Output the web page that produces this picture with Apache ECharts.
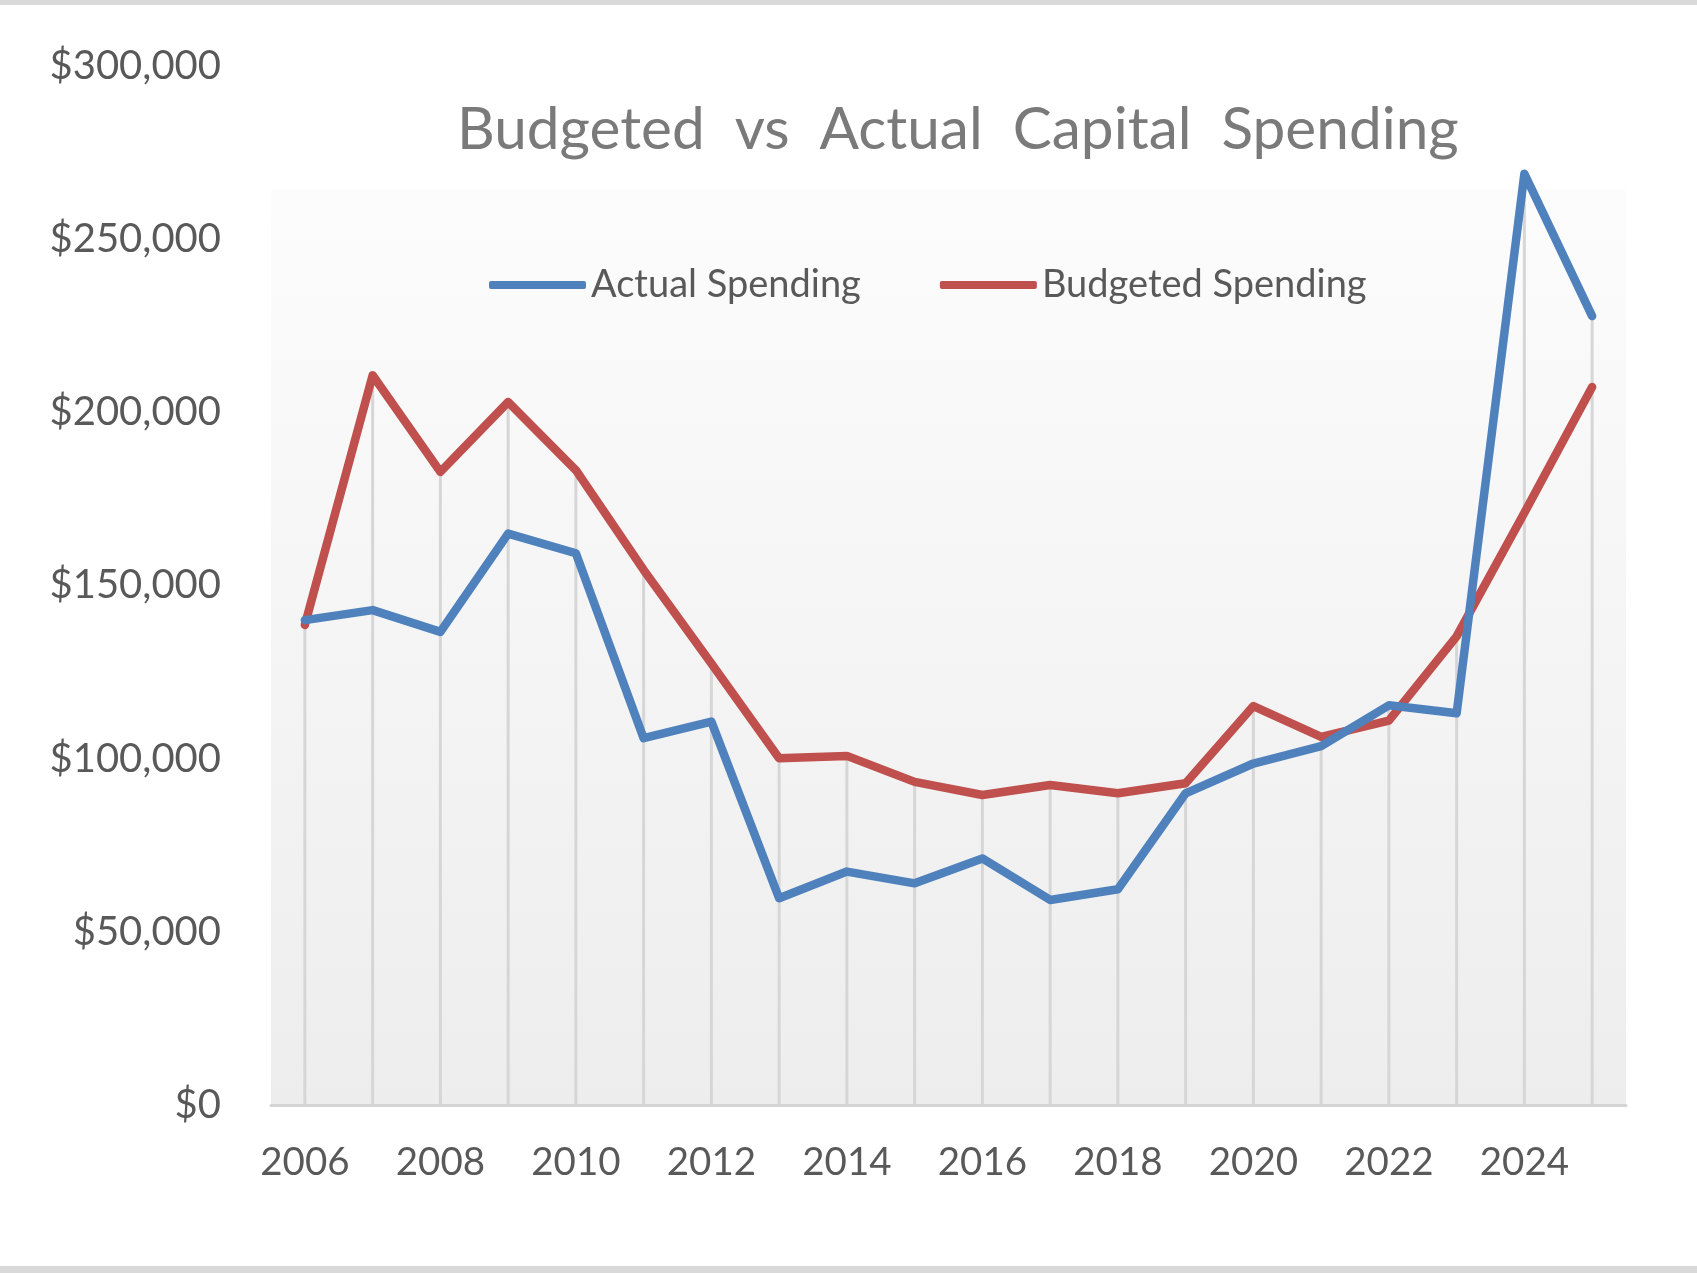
<!DOCTYPE html>
<html>
<head>
<meta charset="utf-8">
<script src="https://cdn.jsdelivr.net/npm/echarts@6/dist/echarts.min.js"></script>
<style>
html,body{margin:0;padding:0;background:#fff;}
#wrap{position:relative;width:1697px;height:1273px;overflow:hidden;}
#chart{position:absolute;left:0;top:0;width:1697px;height:1273px;}
.bar{position:absolute;left:0;width:1697px;height:5px;background:#d9d9d9;}
</style>
</head>
<body>
<div id="wrap">
<div id="chart"></div>
<div class="bar" style="top:0"></div>
<div class="bar" style="top:1266px;height:7px"></div>
</div>
<script>
const years = ['2006','2007','2008','2009','2010','2011','2012','2013','2014','2015','2016','2017','2018','2019','2020','2021','2022','2023','2024','2025'];
const actualSpending = [140000,142900,136600,165000,159300,105900,110700,59700,67400,64000,71200,59200,62300,90000,98600,103600,115400,113100,268900,227800];
const budgetedSpending = [138600,210700,182800,203000,183300,154500,127500,100100,100800,93300,89500,92400,90000,92900,115200,106300,111000,135300,171000,207300];
const yTicks = [0,50000,100000,150000,200000,250000,300000];
const titleText = 'Budgeted  vs  Actual  Capital  Spending';

const dropLines = years.map((y,i)=>Math.max(actualSpending[i], budgetedSpending[i]));

const chart = echarts.init(document.getElementById('chart'));
const fontFamily = 'Lato';
chart.setOption({
  animation:false,
  backgroundColor:'#ffffff',
  title:{
    text:titleText,
    left:452,
    top:96,
    textStyle:{fontFamily, fontSize:58.5, fontWeight:'normal', color:'#7a7a7a'}
  },
  legend:{
    left:484, top:261,
    icon:'roundRect',
    itemWidth:97, itemHeight:8, itemGap:79,
    textStyle:{fontFamily, fontSize:38, color:'#595959'},
    data:['Actual Spending','Budgeted Spending']
  },
  grid:{
    left:271, right:71, top:66, bottom:168,
    show:true, borderWidth:0,
    backgroundColor:new echarts.graphic.LinearGradient(0,0,0,1,[
      {offset:0,color:'#ffffff'},
      {offset:0.118,color:'#ffffff'},
      {offset:0.12,color:'#fcfcfc'},
      {offset:1,color:'#ededed'}
    ])
  },
  xAxis:{
    type:'category',
    data:years,
    boundaryGap:true,
    axisLine:{show:true, lineStyle:{color:'#d4d4d4', width:3}},
    axisTick:{show:false},
    splitLine:{show:false},
    axisLabel:{interval:1, margin:38, fontFamily, fontSize:38.5, color:'#595959'}
  },
  yAxis:{
    type:'value',
    min:yTicks[0], max:yTicks[yTicks.length-1], interval:50000,
    axisLine:{show:false},
    axisTick:{show:false},
    splitLine:{show:false},
    axisLabel:{margin:50, fontFamily, fontSize:40, color:'#595959',
      formatter:v=>'$'+v.toLocaleString('en-US')}
  },
  series:[
    {
      name:'drop', type:'bar', data:dropLines, barWidth:3, silent:true,
      itemStyle:{color:'#d6d6d6'}, z:1
    },
    {
      name:'Actual Spending', type:'line', data:actualSpending,
      showSymbol:false, symbol:'none',
      lineStyle:{color:'#4F81BD', width:8.5, join:'round', cap:'round'},
      itemStyle:{color:'#4F81BD'}, z:3
    },
    {
      name:'Budgeted Spending', type:'line', data:budgetedSpending,
      showSymbol:false, symbol:'none',
      lineStyle:{color:'#C0504D', width:8.5, join:'round', cap:'round'},
      itemStyle:{color:'#C0504D'}, z:2
    }
  ]
});
</script>
</body>
</html>
